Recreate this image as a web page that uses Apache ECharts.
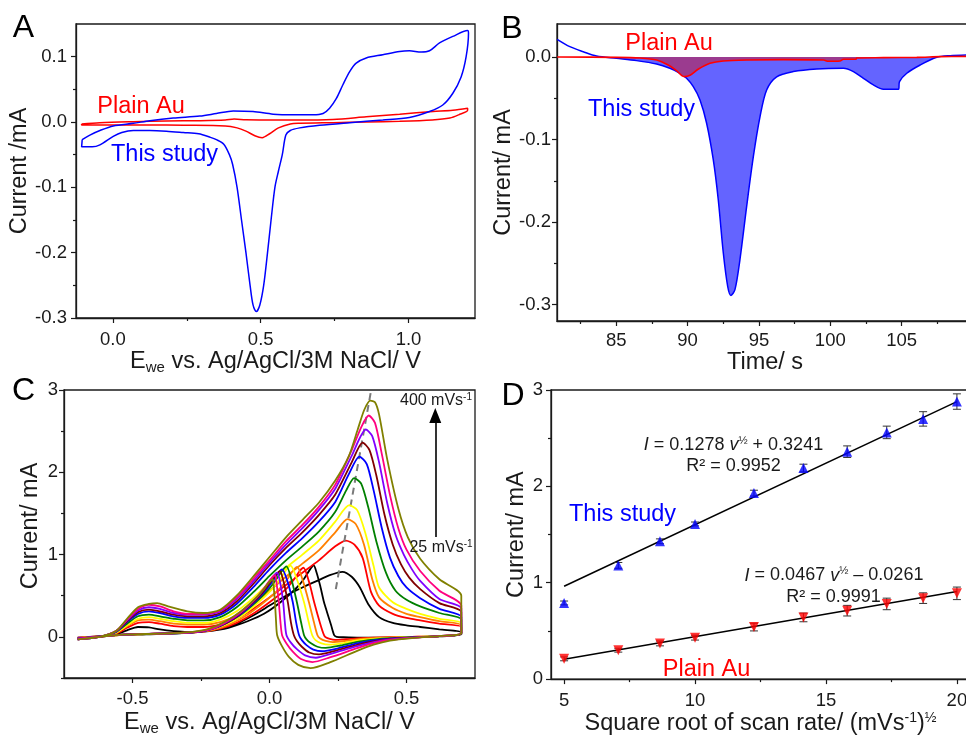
<!DOCTYPE html>
<html><head><meta charset="utf-8">
<script src="https://cdn.jsdelivr.net/npm/echarts@6/dist/echarts.min.js"></script>
<style>html,body{margin:0;padding:0;background:#fff;overflow:hidden;width:966px;height:737px}#c{width:980px;height:737px}</style>
</head><body><div id="c"></div>
<script>
// ---------------- Panel A : CV (x: potential V, y: current mA)
const cvA_this = [[-0.104,-0.027],[-0.078,-0.020],[-0.044,-0.013],[0.001,-0.006],[0.069,-0.002],[0.125,0.002],[0.204,0.006],[0.294,0.009],[0.350,0.013],[0.407,0.017],[0.474,0.016],[0.542,0.012],[0.609,0.011],[0.677,0.011],[0.711,0.013],[0.733,0.021],[0.756,0.036],[0.778,0.057],[0.801,0.077],[0.823,0.090],[0.857,0.098],[0.913,0.103],[0.970,0.108],[1.003,0.109],[1.043,0.107],[1.071,0.109],[1.105,0.121],[1.150,0.131],[1.200,0.140],
 [1.203,0.136],[1.195,0.100],[1.178,0.069],[1.150,0.044],[1.116,0.026],[1.071,0.016],[1.003,0.007],[0.913,0.003],[0.801,-0.001],[0.699,-0.005],[0.632,-0.009],[0.600,-0.013],[0.585,-0.020],[0.573,-0.050],[0.560,-0.075],[0.548,-0.100],[0.535,-0.150],[0.523,-0.200],[0.510,-0.250],[0.497,-0.280],[0.485,-0.290],[0.474,-0.280],[0.464,-0.250],[0.450,-0.200],[0.435,-0.150],[0.420,-0.100],[0.405,-0.065],[0.394,-0.050],[0.375,-0.034],[0.350,-0.027],[0.330,-0.0235],[0.290,-0.018],[0.238,-0.016],[0.181,-0.014],[0.125,-0.013],[0.069,-0.013],[0.030,-0.016],[0.001,-0.022],[-0.044,-0.035],[-0.070,-0.038],[-0.106,-0.038],[-0.104,-0.027]];
const cvA_au = [[-0.106,-0.003],[-0.044,-0.001],[0.069,0.0005],[0.181,0.0015],[0.294,0.002],[0.380,0.003],[0.410,0.0045],[0.450,0.0035],[0.542,0.003],[0.632,0.003],[0.744,0.004],[0.857,0.008],[0.970,0.012],[1.083,0.016],[1.150,0.018],[1.200,0.021],
 [1.200,0.018],[1.170,0.011],[1.140,0.006],[1.080,0.003],[0.970,0.001],[0.857,0.000],[0.744,-0.001],[0.632,-0.002],[0.600,-0.003],[0.560,-0.009],[0.530,-0.018],[0.505,-0.024],[0.480,-0.021],[0.450,-0.014],[0.420,-0.009],[0.380,-0.006],[0.238,-0.005],[0.125,-0.0046],[0.000,-0.0046],[-0.106,-0.0046],[-0.106,-0.003]];

// ---------------- Panel B : chronoamperometry (x: time s, y: current mA)
const caB_this = [[80.86,0.0214],[81.75,0.0125],[82.69,0.0064],[83.62,0.0012],[85.02,-0.0016],[86.42,-0.0044],[87.83,-0.0085],[88.76,-0.0137],[89.47,-0.0197],[89.93,-0.0258],[90.40,-0.0359],[90.87,-0.052],[91.33,-0.080],[91.80,-0.1245],[92.15,-0.173],[92.50,-0.237],[92.81,-0.278],[93.04,-0.289],[93.32,-0.282],[93.67,-0.2455],[94.14,-0.181],[94.61,-0.1205],[95.08,-0.072],[95.54,-0.040],[96.24,-0.024],[97.41,-0.0177],[99.05,-0.0145],[100.92,-0.0137],[101.62,-0.0177],[102.32,-0.0258],[103.02,-0.0339],[103.72,-0.0391],[104.78,-0.0391],[104.85,-0.0298],[105.36,-0.0197],[106.30,-0.0097],[107.46,-0.0004],[108.40,0.0016],[109.54,0.0024]];
const caB_au = [[80.86,0],[85.02,-0.0004],[86.66,-0.0012],[87.83,-0.0036],[88.64,-0.0097],[89.22,-0.0165],[89.76,-0.0238],[90.17,-0.0222],[90.74,-0.0149],[91.57,-0.0077],[92.50,-0.0048],[94.37,-0.0036],[96.71,-0.0032],[99.52,-0.0036],[99.87,-0.0052],[100.68,-0.0048],[100.92,-0.0028],[101.80,-0.0028],[101.85,-0.0012],[103.72,-0.0008],[106.06,-0.0004],[107.70,0.0004],[109.54,0.0008]];

// ---------------- Panel C : CVs at scan rates 25 ... 400 mV/s
const scanRates = ['25','50','75','100','150','200','250','300','350','400'];
const cv25 = [[-0.70,-0.02],[-0.62,0.00],[-0.56,0.03],[-0.52,0.08],[-0.48,0.12],[-0.44,0.115],[-0.40,0.09],[-0.35,0.07],[-0.30,0.06],[-0.24,0.065],[-0.18,0.09],[-0.12,0.16],[-0.06,0.26],[0.00,0.38],[0.06,0.50],[0.12,0.60],[0.18,0.69],[0.22,0.75],[0.266,0.79],[0.30,0.73],[0.33,0.60],[0.36,0.40],[0.40,0.24],[0.45,0.17],[0.50,0.14],[0.55,0.12],[0.62,0.09],[0.70,0.06],
 [0.70,0.03],[0.62,0.005],[0.52,-0.005],[0.42,-0.01],[0.33,-0.01],[0.27,-0.005],[0.245,0.0],[0.236,0.02],[0.225,0.14],[0.21,0.30],[0.199,0.42],[0.185,0.62],[0.172,0.78],[0.161,0.87],[0.148,0.82],[0.125,0.70],[0.10,0.60],[0.04,0.42],[-0.02,0.28],[-0.08,0.19],[-0.15,0.11],[-0.22,0.07],[-0.32,0.045],[-0.45,0.03],[-0.58,0.015],[-0.70,-0.01]];
const cv50 = [[-0.70,-0.02],[-0.62,0.00],[-0.56,0.04],[-0.52,0.11],[-0.48,0.17],[-0.44,0.18],[-0.40,0.16],[-0.35,0.13],[-0.30,0.12],[-0.24,0.12],[-0.18,0.15],[-0.12,0.22],[-0.06,0.34],[0.00,0.48],[0.06,0.63],[0.12,0.78],[0.18,0.93],[0.24,1.10],[0.279,1.17],[0.31,1.12],[0.34,0.96],[0.37,0.55],[0.40,0.38],[0.45,0.28],[0.50,0.23],[0.55,0.20],[0.62,0.16],[0.70,0.12],
 [0.70,0.04],[0.62,0.01],[0.52,0.0],[0.44,-0.005],[0.38,-0.01],[0.32,-0.018],[0.28,-0.028],[0.24,-0.036],[0.22,-0.025],[0.205,-0.005],[0.199,0.02],[0.185,0.16],[0.163,0.42],[0.145,0.66],[0.124,0.84],[0.11,0.80],[0.09,0.70],[0.06,0.58],[0.0,0.42],[-0.06,0.28],[-0.12,0.17],[-0.18,0.10],[-0.25,0.06],[-0.35,0.045],[-0.5,0.03],[-0.7,-0.01]];
const cv75 = [[-0.70,-0.02],[-0.62,0.00],[-0.56,0.05],[-0.52,0.13],[-0.48,0.20],[-0.44,0.21],[-0.40,0.19],[-0.35,0.16],[-0.30,0.15],[-0.24,0.15],[-0.18,0.18],[-0.12,0.26],[-0.06,0.40],[0.00,0.56],[0.06,0.73],[0.12,0.89],[0.18,1.05],[0.24,1.27],[0.285,1.43],[0.315,1.37],[0.345,1.12],[0.375,0.70],[0.40,0.48],[0.45,0.35],[0.50,0.28],[0.55,0.24],[0.62,0.19],[0.70,0.143],
 [0.70,0.04],[0.62,0.01],[0.52,0.0],[0.44,-0.008],[0.38,-0.016],[0.32,-0.03],[0.28,-0.048],[0.23,-0.063],[0.205,-0.05],[0.185,-0.02],[0.175,0.02],[0.162,0.18],[0.144,0.42],[0.122,0.68],[0.101,0.85],[0.085,0.80],[0.065,0.70],[0.035,0.58],[-0.02,0.42],[-0.08,0.27],[-0.14,0.16],[-0.2,0.09],[-0.27,0.055],[-0.37,0.04],[-0.5,0.03],[-0.7,-0.015]];
const cv100 = [[-0.70,-0.03],[-0.62,0.00],[-0.56,0.05],[-0.52,0.14],[-0.48,0.22],[-0.44,0.24],[-0.40,0.22],[-0.35,0.19],[-0.30,0.17],[-0.24,0.17],[-0.18,0.21],[-0.12,0.31],[-0.06,0.47],[0.00,0.66],[0.06,0.84],[0.12,1.00],[0.18,1.17],[0.24,1.40],[0.291,1.60],[0.32,1.54],[0.35,1.26],[0.38,0.86],[0.40,0.60],[0.45,0.42],[0.50,0.34],[0.55,0.28],[0.62,0.22],[0.70,0.167],
 [0.70,0.04],[0.62,0.01],[0.52,-0.002],[0.44,-0.012],[0.38,-0.024],[0.32,-0.043],[0.27,-0.075],[0.218,-0.095],[0.19,-0.08],[0.168,-0.04],[0.156,0.02],[0.143,0.18],[0.126,0.42],[0.10,0.70],[0.077,0.865],[0.06,0.81],[0.04,0.71],[0.01,0.58],[-0.04,0.42],[-0.10,0.26],[-0.16,0.15],[-0.22,0.085],[-0.29,0.055],[-0.38,0.04],[-0.5,0.03],[-0.7,-0.015]];
const cv150 = [[-0.70,-0.03],[-0.62,0.00],[-0.56,0.06],[-0.52,0.16],[-0.48,0.25],[-0.44,0.27],[-0.40,0.25],[-0.35,0.22],[-0.30,0.20],[-0.24,0.20],[-0.18,0.24],[-0.12,0.36],[-0.06,0.54],[0.00,0.74],[0.06,0.93],[0.12,1.10],[0.18,1.28],[0.24,1.52],[0.28,1.78],[0.309,1.93],[0.335,1.86],[0.36,1.58],[0.39,1.16],[0.425,0.78],[0.46,0.56],[0.50,0.45],[0.55,0.37],[0.62,0.29],[0.70,0.21],
 [0.70,0.04],[0.62,0.01],[0.52,-0.004],[0.44,-0.016],[0.38,-0.034],[0.32,-0.06],[0.26,-0.105],[0.205,-0.135],[0.175,-0.12],[0.15,-0.075],[0.135,-0.03],[0.126,0.02],[0.115,0.18],[0.10,0.42],[0.08,0.70],[0.062,0.857],[0.045,0.80],[0.025,0.70],[-0.005,0.57],[-0.05,0.42],[-0.11,0.26],[-0.17,0.15],[-0.23,0.08],[-0.30,0.05],[-0.4,0.04],[-0.55,0.025],[-0.7,-0.02]];
const cv200 = [[-0.70,-0.03],[-0.62,0.00],[-0.56,0.06],[-0.52,0.18],[-0.48,0.28],[-0.44,0.31],[-0.40,0.29],[-0.35,0.25],[-0.30,0.23],[-0.24,0.23],[-0.18,0.27],[-0.12,0.40],[-0.06,0.60],[0.00,0.82],[0.06,1.02],[0.12,1.20],[0.18,1.40],[0.24,1.64],[0.29,1.98],[0.328,2.19],[0.355,2.10],[0.38,1.78],[0.41,1.32],[0.44,0.96],[0.47,0.74],[0.50,0.60],[0.55,0.47],[0.62,0.34],[0.70,0.24],
 [0.70,0.045],[0.62,0.01],[0.52,-0.006],[0.44,-0.021],[0.38,-0.044],[0.32,-0.079],[0.25,-0.14],[0.193,-0.175],[0.16,-0.155],[0.135,-0.10],[0.118,-0.04],[0.108,0.02],[0.097,0.18],[0.085,0.42],[0.065,0.68],[0.046,0.82],[0.03,0.77],[0.01,0.67],[-0.02,0.54],[-0.065,0.39],[-0.12,0.24],[-0.18,0.13],[-0.24,0.07],[-0.31,0.05],[-0.4,0.04],[-0.55,0.025],[-0.7,-0.02]];
const cv250 = [[-0.70,-0.03],[-0.62,0.00],[-0.56,0.07],[-0.52,0.19],[-0.48,0.30],[-0.44,0.33],[-0.40,0.31],[-0.35,0.27],[-0.30,0.25],[-0.24,0.25],[-0.18,0.29],[-0.12,0.43],[-0.06,0.64],[0.00,0.87],[0.06,1.08],[0.12,1.27],[0.18,1.48],[0.24,1.73],[0.30,2.12],[0.340,2.36],[0.365,2.27],[0.39,1.96],[0.42,1.48],[0.45,1.12],[0.48,0.88],[0.51,0.72],[0.55,0.58],[0.62,0.41],[0.70,0.30],
 [0.70,0.045],[0.62,0.01],[0.52,-0.008],[0.44,-0.026],[0.38,-0.054],[0.32,-0.096],[0.24,-0.17],[0.181,-0.214],[0.145,-0.19],[0.118,-0.12],[0.10,-0.05],[0.089,0.02],[0.078,0.18],[0.067,0.42],[0.052,0.66],[0.038,0.80],[0.022,0.75],[0.0,0.65],[-0.03,0.52],[-0.075,0.37],[-0.13,0.22],[-0.19,0.12],[-0.25,0.065],[-0.32,0.05],[-0.42,0.04],[-0.55,0.025],[-0.7,-0.02]];
const cv300 = [[-0.70,-0.03],[-0.62,0.00],[-0.56,0.07],[-0.52,0.20],[-0.48,0.32],[-0.44,0.36],[-0.40,0.34],[-0.35,0.29],[-0.30,0.27],[-0.24,0.27],[-0.18,0.31],[-0.12,0.46],[-0.06,0.67],[0.00,0.90],[0.06,1.12],[0.12,1.32],[0.18,1.54],[0.24,1.80],[0.30,2.20],[0.352,2.52],[0.375,2.44],[0.40,2.12],[0.43,1.62],[0.46,1.24],[0.49,1.00],[0.52,0.82],[0.55,0.68],[0.62,0.46],[0.70,0.345],
 [0.70,0.05],[0.62,0.01],[0.52,-0.01],[0.44,-0.03],[0.38,-0.064],[0.32,-0.114],[0.23,-0.20],[0.169,-0.254],[0.13,-0.225],[0.10,-0.15],[0.078,-0.07],[0.062,0.02],[0.056,0.18],[0.050,0.42],[0.04,0.64],[0.028,0.78],[0.012,0.73],[-0.01,0.63],[-0.04,0.50],[-0.085,0.35],[-0.14,0.21],[-0.20,0.11],[-0.26,0.06],[-0.33,0.045],[-0.43,0.04],[-0.55,0.025],[-0.7,-0.02]];
const cv350 = [[-0.70,-0.03],[-0.62,0.00],[-0.56,0.07],[-0.52,0.21],[-0.48,0.34],[-0.44,0.39],[-0.40,0.37],[-0.35,0.31],[-0.30,0.28],[-0.24,0.28],[-0.18,0.32],[-0.12,0.48],[-0.06,0.70],[0.00,0.93],[0.06,1.16],[0.12,1.36],[0.18,1.58],[0.24,1.85],[0.30,2.27],[0.335,2.55],[0.362,2.69],[0.385,2.60],[0.41,2.22],[0.44,1.72],[0.47,1.32],[0.50,1.06],[0.55,0.80],[0.62,0.56],[0.70,0.38],
 [0.70,0.05],[0.62,0.01],[0.52,-0.012],[0.44,-0.037],[0.38,-0.077],[0.32,-0.138],[0.22,-0.25],[0.157,-0.306],[0.115,-0.27],[0.085,-0.18],[0.062,-0.08],[0.046,0.02],[0.04,0.18],[0.034,0.42],[0.027,0.62],[0.020,0.75],[0.004,0.70],[-0.018,0.60],[-0.05,0.47],[-0.095,0.33],[-0.15,0.20],[-0.21,0.10],[-0.27,0.06],[-0.34,0.045],[-0.45,0.035],[-0.55,0.025],[-0.7,-0.025]];
const cv400 = [[-0.70,-0.03],[-0.62,0.00],[-0.56,0.07],[-0.52,0.22],[-0.48,0.36],[-0.44,0.40],[-0.41,0.41],[-0.37,0.37],[-0.30,0.31],[-0.24,0.29],[-0.18,0.33],[-0.12,0.50],[-0.06,0.73],[0.00,0.97],[0.06,1.21],[0.12,1.42],[0.18,1.63],[0.24,1.90],[0.29,2.20],[0.322,2.52],[0.346,2.76],[0.368,2.87],[0.385,2.85],[0.40,2.70],[0.43,2.15],[0.47,1.56],[0.505,1.21],[0.55,0.95],[0.62,0.70],[0.70,0.50],
 [0.70,0.05],[0.62,0.01],[0.52,-0.015],[0.44,-0.046],[0.38,-0.095],[0.32,-0.17],[0.22,-0.31],[0.15,-0.381],[0.105,-0.34],[0.07,-0.24],[0.045,-0.11],[0.028,0.02],[0.024,0.18],[0.020,0.42],[0.016,0.58],[0.012,0.70],[-0.005,0.65],[-0.025,0.56],[-0.06,0.44],[-0.105,0.31],[-0.16,0.19],[-0.22,0.10],[-0.28,0.06],[-0.35,0.045],[-0.45,0.035],[-0.55,0.025],[-0.7,-0.03]];
const cvC_all = [cv25, cv50, cv75, cv100, cv150, cv200, cv250, cv300, cv350, cv400];
const cvC_colors = ['#000000','#ff0000','#ff8000','#ffff00','#008000','#0000ff','#800000','#8000ff','#ff0080','#808000'];
const peakGuide = [[0.242,0.58],[0.370,2.98]];
const rateArrow = [[0.605,1.214],[0.605,2.69]];

// ---------------- Panel D : peak current vs sqrt(scan rate)
const sqrtRate = [5, 7.07, 8.66, 10, 12.25, 14.14, 15.81, 17.32, 18.71, 20];
const peakThis = [0.79, 1.18, 1.43, 1.61, 1.93, 2.19, 2.36, 2.56, 2.70, 2.88];
const errThis  = [0.02, 0.03, 0.025, 0.02, 0.03, 0.04, 0.06, 0.065, 0.075, 0.08];
const peakAu   = [0.21, 0.30, 0.37, 0.43, 0.54, 0.64, 0.71, 0.78, 0.84, 0.89];
const errAu    = [0.02, 0.02, 0.025, 0.025, 0.04, 0.045, 0.055, 0.06, 0.055, 0.065];
const fitThis = [[5, 0.963], [20, 2.880]];
const fitAu   = [[5, 0.207], [20, 0.908]];

// ---------------- tick values
const tickA_x = [0, 0.5, 1.0],  minorA_x = [0.25, 0.75];
const tickA_y = [-0.3, -0.2, -0.1, 0, 0.1], minorA_y = [-0.25, -0.15, -0.05, 0.05];
const tickB_x = [85, 90, 95, 100, 105], minorB_x = [82.5, 87.5, 92.5, 97.5, 102.5, 107.5];
const tickB_y = [-0.3, -0.2, -0.1, 0], minorB_y = [-0.25, -0.15, -0.05];
const tickC_x = [-0.5, 0, 0.5], minorC_x = [-0.25, 0.25];
const tickC_y = [0, 1, 2, 3], minorC_y = [-0.5, 0.5, 1.5, 2.5];
const tickD_x = [5, 10, 15, 20], minorD_x = [7.5, 12.5, 17.5];
const tickD_y = [0, 1, 2, 3], minorD_y = [0.5, 1.5, 2.5];

// ============================================================
const FONT = '"Liberation Sans", Arial, Helvetica, sans-serif';
const INK = '#1a1a1a';
const NAME_FS = 23.5;
const nameRich = {
  t: {fontSize: NAME_FS, fontFamily: FONT, color: INK, lineHeight: 26},
  s: {fontSize: 15, fontFamily: FONT, color: INK, lineHeight: 14, verticalAlign: 'bottom'},
  p: {fontSize: 14, fontFamily: FONT, color: INK, lineHeight: 12, verticalAlign: 'top'}
};
const f1 = v => v.toFixed(1), f0 = v => String(Math.round(v));

function axis(kind, g, min, max, ticks, fmt, margin, name, gap, pad) {
  return {
    type: 'value', gridIndex: g, min, max, position: kind === 'x' ? 'bottom' : 'left',
    axisLine: {show: true, onZero: false, lineStyle: {color: INK, width: 1.3}},
    axisTick: {show: true, inside: false, length: 5, customValues: ticks, lineStyle: {color: INK, width: 1.2}},
    axisLabel: {show: true, customValues: ticks, formatter: fmt, margin, fontSize: 18.5, fontFamily: FONT, color: INK},
    splitLine: {show: false}, minorTick: {show: false},
    name, nameLocation: 'middle', nameGap: gap, nameRotate: kind === 'x' ? 0 : 90,
    nameTextStyle: {fontSize: NAME_FS, fontFamily: FONT, color: INK, rich: nameRich, padding: pad || 0}
  };
}
function minorAxis(kind, g, min, max, ticks) {
  return {
    type: 'value', gridIndex: g, min, max, position: kind === 'x' ? 'bottom' : 'left', offset: 0,
    axisLine: {show: false, onZero: false}, axisLabel: {show: false}, splitLine: {show: false},
    axisTick: {show: true, inside: false, length: 3, customValues: ticks, lineStyle: {color: INK, width: 1.2}}
  };
}
const GB = {show: true, borderColor: INK, borderWidth: 1.3, backgroundColor: 'transparent', containLabel: false};
const grids = [
  Object.assign({left: 76, top: 24, width: 399, height: 294}, GB),
  Object.assign({left: 557, top: 24, width: 416, height: 297}, GB),
  Object.assign({left: 64, top: 390, width: 411, height: 294}, GB),
  Object.assign({left: 551, top: 390, width: 419, height: 295}, GB)
];
const xRange = [[-0.125, 1.225], [80.85, 110], [-0.75, 0.75], [4.5, 20.5]];
const yRange = [[-0.3, 0.15], [-0.32, 0.04], [-0.5, 3], [0, 3]];

const xAxes = [
  axis('x', 0, xRange[0][0], xRange[0][1], tickA_x, f1, 12, '{t|E}{s|we}{t| vs. Ag/AgCl/3M NaCl/ V}', 24),
  axis('x', 1, xRange[1][0], xRange[1][1], tickB_x, f0, 10, '{t|Time/ s}', 26),
  axis('x', 2, xRange[2][0], xRange[2][1], tickC_x, f1, 11, '{t|E}{s|we}{t| vs. Ag/AgCl/3M NaCl/ V}', 32),
  axis('x', 3, xRange[3][0], xRange[3][1], tickD_x, f0, 12, '{t|Square root of scan rate/ (mVs}{p|-1}{t|)}{p|½}', 28),
  minorAxis('x', 0, xRange[0][0], xRange[0][1], minorA_x),
  minorAxis('x', 1, xRange[1][0], xRange[1][1], minorB_x),
  minorAxis('x', 2, xRange[2][0], xRange[2][1], minorC_x),
  minorAxis('x', 3, xRange[3][0], xRange[3][1], minorD_x)
];
const yAxes = [
  axis('y', 0, yRange[0][0], yRange[0][1], tickA_y, f1, 9, '{t|Current /mA}', 33),
  axis('y', 1, yRange[1][0], yRange[1][1], tickB_y, f1, 6, '{t|Current/ mA}', 35),
  axis('y', 2, yRange[2][0], yRange[2][1], tickC_y, f0, 6, '{t|Current/ mA}', 20, [0, 0, 0, 16]),
  axis('y', 3, yRange[3][0], yRange[3][1], tickD_y, f0, 8, '{t|Current/ mA}', 14),
  minorAxis('y', 0, yRange[0][0], yRange[0][1], minorA_y),
  minorAxis('y', 1, yRange[1][0], yRange[1][1], minorB_y),
  minorAxis('y', 2, yRange[2][0], yRange[2][1], minorC_y),
  minorAxis('y', 3, yRange[3][0], yRange[3][1], minorD_y)
];

function lineS(g, data, color, width, extra) {
  return Object.assign({type: 'line', xAxisIndex: g, yAxisIndex: g, data, symbol: 'none', showSymbol: false,
    smooth: 0.3, lineStyle: {color, width}, animation: false, silent: true, clip: true}, extra || {});
}

const series = [];
// A
series.push(lineS(0, cvA_au, '#ff0000', 1.5, {z: 3}));
series.push(lineS(0, cvA_this, '#0000ff', 1.5, {z: 4}));
// B
const fillB = caB_this.filter(p => p[0] >= 83.6 && p[0] <= 107.5);
series.push(lineS(1, fillB, '#6464ff', 0, {z: 1, areaStyle: {color: '#6464ff', opacity: 1}}));
series.push(lineS(1, caB_this, '#0000ff', 1.5, {z: 2}));
series.push(lineS(1, caB_au, '#ff0000', 1.6, {z: 3, areaStyle: {color: '#9b3b8f', opacity: 1}}));
// C
cvC_all.forEach((d, i) => series.push(lineS(2, d, cvC_colors[i], 1.8, {z: 2 + i, name: scanRates[i] + ' mV/s', smooth: 0.25})));
series.push({type: 'line', xAxisIndex: 2, yAxisIndex: 2, data: [], silent: true, animation: false, z: 20,
  markLine: {silent: true, animation: false, symbol: ['none', 'none'], label: {show: false}, emphasis: {disabled: true},
    data: [
      [{coord: peakGuide[0], lineStyle: {type: [7, 5], color: '#7a7a7a', width: 2}}, {coord: peakGuide[1]}],
      [{coord: rateArrow[0], symbol: 'none', lineStyle: {type: 'solid', color: '#000', width: 1.6}}, {coord: rateArrow[1], symbol: 'triangle', symbolSize: [12, 15]}]
    ]}});
// D
function errSeries(ys, es) {
  return {type: 'custom', xAxisIndex: 3, yAxisIndex: 3, silent: true, animation: false, z: 3,
    data: sqrtRate.map((x, i) => [x, ys[i], es[i]]),
    renderItem: (p, api) => {
      const x = api.value(0), y = api.value(1), e = api.value(2);
      const a = api.coord([x, y + e]), b = api.coord([x, y - e]), c = 4;
      const st = {stroke: '#333', lineWidth: 1};
      return {type: 'group', children: [
        {type: 'line', shape: {x1: a[0], y1: a[1], x2: b[0], y2: b[1]}, style: st},
        {type: 'line', shape: {x1: a[0] - c, y1: a[1], x2: a[0] + c, y2: a[1]}, style: st},
        {type: 'line', shape: {x1: b[0] - c, y1: b[1], x2: b[0] + c, y2: b[1]}, style: st}]};
    }};
}
series.push(lineS(3, fitThis, '#000', 1.5, {smooth: false, z: 2}));
series.push(lineS(3, fitAu, '#000', 1.5, {smooth: false, z: 2}));
series.push(errSeries(peakThis, errThis));
series.push(errSeries(peakAu, errAu));
series.push({type: 'scatter', xAxisIndex: 3, yAxisIndex: 3, silent: true, animation: false, z: 5,
  data: sqrtRate.map((x, i) => [x, peakThis[i]]), symbol: 'triangle', symbolSize: 10, itemStyle: {color: '#0000ff'}});
series.push({type: 'scatter', xAxisIndex: 3, yAxisIndex: 3, silent: true, animation: false, z: 5,
  data: sqrtRate.map((x, i) => [x, peakAu[i]]), symbol: 'triangle', symbolRotate: 180, symbolSize: 10, itemStyle: {color: '#ff0000'}});

// texts
function T(x, y, text, color, size, rich) {
  const st = {text, fill: color, fontSize: size, fontFamily: FONT, align: 'center', verticalAlign: 'middle'};
  if (rich) st.rich = rich;
  return {type: 'text', x, y, silent: true, z: 50, style: st};
}
const eqRich = {
  n: {fontSize: 18, fontFamily: FONT, color: INK, lineHeight: 20},
  i: {fontSize: 18, fontFamily: FONT, color: INK, lineHeight: 20, fontStyle: 'italic'},
  p: {fontSize: 11, fontFamily: FONT, color: INK, lineHeight: 11, verticalAlign: 'top'}
};
const rateRich = {
  n: {fontSize: 16, fontFamily: FONT, color: INK, lineHeight: 18},
  p: {fontSize: 10, fontFamily: FONT, color: INK, lineHeight: 9, verticalAlign: 'top'}
};
const graphic = [
  T(23.5, 28, 'A', '#000', 32), T(512, 29.5, 'B', '#000', 32), T(23.5, 391.5, 'C', '#000', 32), T(513, 396, 'D', '#000', 32),
  T(141, 106.5, 'Plain Au', '#ff0000', 23.5), T(164.5, 154.5, 'This study', '#0000ff', 23.5),
  T(669, 44, 'Plain Au', '#ff0000', 23.5), T(641.5, 109.5, 'This study', '#0000ff', 23.5),
  T(436, 401, '{n|400 mVs}{p|-1}', INK, 16, rateRich), T(441, 548, '{n|25 mVs}{p|-1}', INK, 16, rateRich),
  T(622.5, 514.5, 'This study', '#0000ff', 23.5), T(706.5, 670, 'Plain Au', '#ff0000', 23.5),
  T(733.5, 445, '{i|I}{n| = 0.1278 }{i|v}{p|½}{n| + 0.3241}', INK, 18, eqRich),
  T(733.5, 466, '{n|R² = 0.9952}', INK, 18, eqRich),
  T(834, 575.5, '{i|I}{n| = 0.0467 }{i|v}{p|½}{n| – 0.0261}', INK, 18, eqRich),
  T(833.5, 597.3, '{n|R² = 0.9991}', INK, 18, eqRich)
];

const chart = echarts.init(document.getElementById('c'), null, {renderer: 'canvas'});
chart.setOption({animation: false, backgroundColor: '#fff', grid: grids, xAxis: xAxes, yAxis: yAxes, series, graphic});
</script></body></html>
